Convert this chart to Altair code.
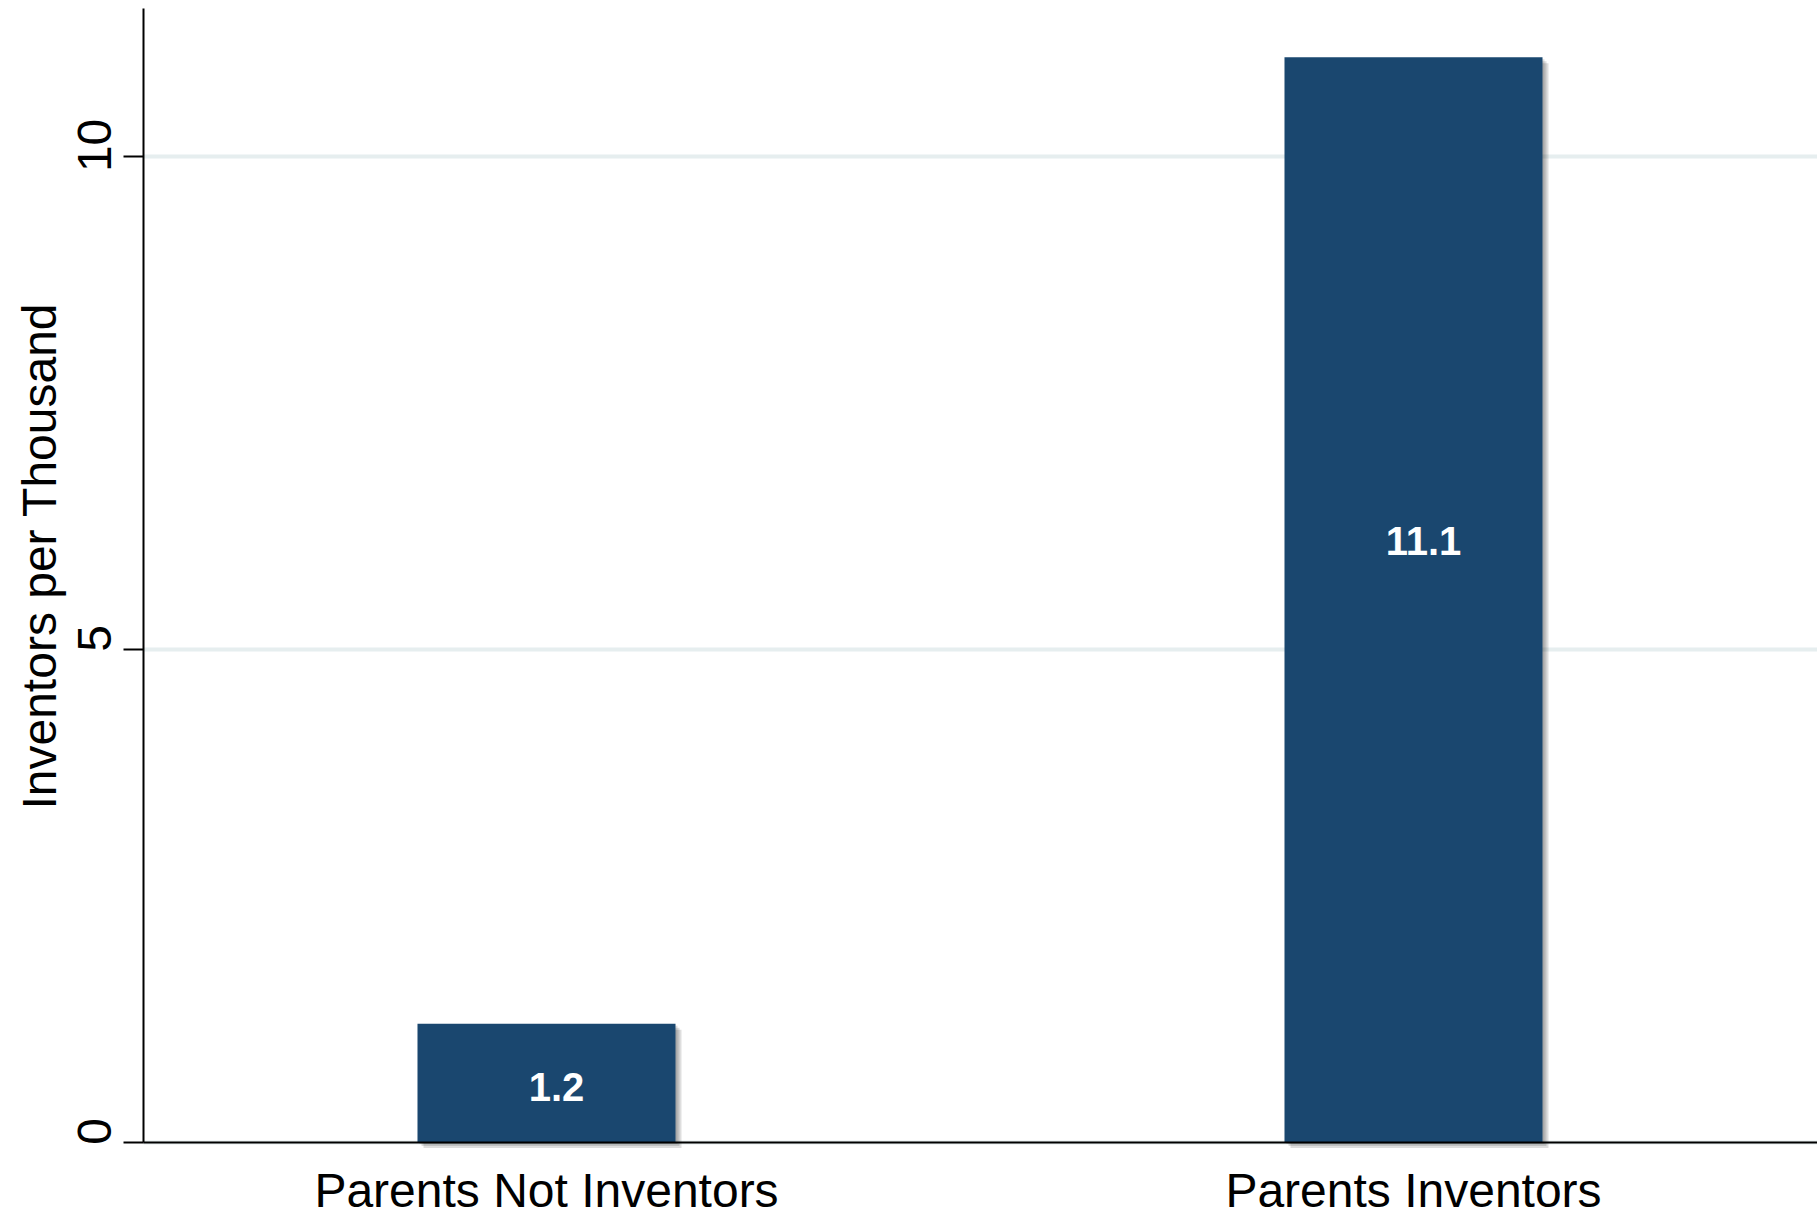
import altair as alt
import pandas as pd

# ---- data ----
categories = ["Parents Not Inventors", "Parents Inventors"]
values = [1.2, 11.0]
value_labels = ["1.2", "11.1"]
y_ticks = [0, 5, 10]

df = pd.DataFrame({
    "cat": categories,
    "val": values,
    "lab": value_labels,
})
# label anchor inside each bar (roughly the bar's middle)
df["labpos"] = df["val"] * 0.565 - 0.14

FONT = "Liberation Sans"
BAR = "#1a476f"
GRID = "#e6eeef"

x_enc = alt.X(
    "cat:N",
    sort=categories,
    scale=alt.Scale(paddingInner=0.7024, paddingOuter=0.3166),
    axis=alt.Axis(
        title=None,
        labelAngle=0,
        labelFontSize=48,
        labelFont=FONT,
        labelColor="black",
        labelPadding=26.5,
        labelLimit=0,
        ticks=False,
        tickSize=0,
        domainColor="black",
        domainWidth=2,
        grid=False,
        zindex=1,
    ),
)

y_scale = alt.Scale(domain=[0, 11.5], nice=False, zero=True)
y_axis = alt.Axis(
    title="Inventors per Thousand",
    titleFont=FONT,
    titleFontSize=48,
    titleFontWeight="normal",
    titleColor="black",
    titleAngle=270,
    titleAlign="center",
    titleBaseline="top",
    titleX=-125.5,
    titleY=548,
    values=y_ticks,
    format="d",
    labelFont=FONT,
    labelFontSize=48,
    labelColor="black",
    labelAngle=270,
    labelAlign="center",
    labelBaseline="bottom",
    labelPadding=3,
    labelOffset=-11,
    labelLimit=0,
    tickSize=20,
    tickWidth=2,
    tickColor="black",
    domainColor="black",
    domainWidth=2,
    grid=True,
    gridColor=GRID,
    gridWidth=4,
    zindex=0,
)

base = alt.Chart(df)

shadows = []
for k in [2, 4, 6]:
    shadows.append(
        base.mark_bar(
            color="black", opacity=0.13,
            xOffset=k, yOffset=k, y2Offset=k,
        ).encode(
            x=x_enc,
            y=alt.Y("val:Q", scale=y_scale, axis=y_axis),
        )
    )

bars = base.mark_bar(color=BAR).encode(
    x=x_enc,
    y=alt.Y("val:Q", scale=y_scale, axis=y_axis),
)

texts = base.mark_text(
    color="white",
    font=FONT,
    fontSize=40,
    fontWeight="bold",
    baseline="middle",
    align="center",
    dx=10,
).encode(
    x=alt.X("cat:N", sort=categories),
    y=alt.Y("labpos:Q", scale=y_scale),
    text="lab:N",
)

chart = alt.layer(*shadows, bars, texts).properties(
    width=1674,
    height=1134,
    autosize=alt.AutoSizeParams(type="none"),
    padding={"left": 143, "top": 8, "right": 0, "bottom": 74},
    background="white",
).configure_view(strokeWidth=0)

chart.save("out.html", embed_options={"renderer": "svg", "actions": False})
